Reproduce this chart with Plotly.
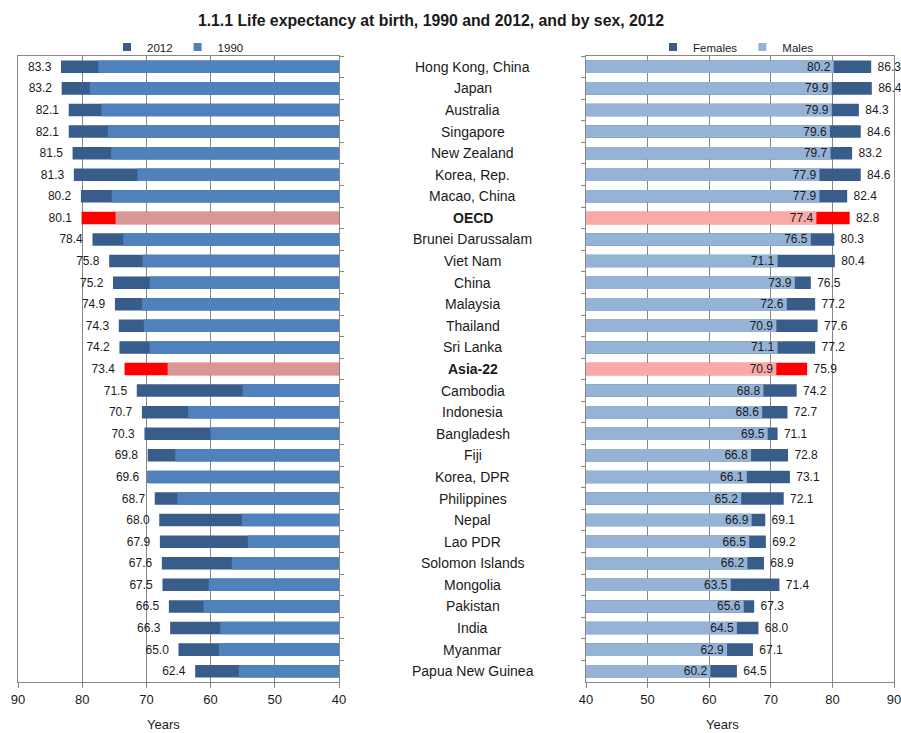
import plotly.graph_objects as go

# Economies, top to bottom
countries = [
    "Hong Kong, China", "Japan", "Australia", "Singapore", "New Zealand",
    "Korea, Rep.", "Macao, China", "OECD", "Brunei Darussalam", "Viet Nam",
    "China", "Malaysia", "Thailand", "Sri Lanka", "Asia-22", "Cambodia",
    "Indonesia", "Bangladesh", "Fiji", "Korea, DPR", "Philippines", "Nepal",
    "Lao PDR", "Solomon Islands", "Mongolia", "Pakistan", "India", "Myanmar",
    "Papua New Guinea",
]

# Life expectancy at birth, total (years)
le_2012 = [83.3, 83.2, 82.1, 82.1, 81.5, 81.3, 80.2, 80.1, 78.4, 75.8,
           75.2, 74.9, 74.3, 74.2, 73.4, 71.5, 70.7, 70.3, 69.8, 69.6,
           68.7, 68.0, 67.9, 67.6, 67.5, 66.5, 66.3, 65.0, 62.4]
le_1990 = [77.5, 78.8, 77.0, 76.0, 75.5, 71.4, 75.4, 74.8, 73.6, 70.6,
           69.5, 70.7, 70.4, 69.5, 66.7, 55.0, 63.5, 60.0, 65.5, 69.9,
           65.2, 55.1, 54.2, 56.7, 60.3, 61.1, 58.5, 58.7, 55.6]

# Life expectancy at birth by sex, 2012 (years)
females = [86.3, 86.4, 84.3, 84.6, 83.2, 84.6, 82.4, 82.8, 80.3, 80.4,
           76.5, 77.2, 77.6, 77.2, 75.9, 74.2, 72.7, 71.1, 72.8, 73.1,
           72.1, 69.1, 69.2, 68.9, 71.4, 67.3, 68.0, 67.1, 64.5]
males = [80.2, 79.9, 79.9, 79.6, 79.7, 77.9, 77.9, 77.4, 76.5, 71.1,
         73.9, 72.6, 70.9, 71.1, 70.9, 68.8, 68.6, 69.5, 66.8, 66.1,
         65.2, 66.9, 66.5, 66.2, 63.5, 65.6, 64.5, 62.9, 60.2]

aggregates = ["OECD", "Asia-22"]
AXIS_MIN = 40

FONT = "Liberation Sans, Arial, sans-serif"
GRID = "#878787"
C_2012, C_1990 = "#385D8A", "#4F81BD"
C_FEM, C_MALE = "#385D8A", "#95B3D7"
HL_DARK, HL_LIGHT_L, HL_LIGHT_R = "#FF0000", "#D99694", "#FAA9A9"


def colours(base, highlight):
    return [highlight if c in aggregates else base for c in countries]


NB = "\u00a0"
fig = go.Figure()

# Left panel: 2012 behind, 1990 in front, reversed axis
fig.add_trace(go.Bar(
    y=countries, x=[v - AXIS_MIN for v in le_2012], base=AXIS_MIN,
    orientation="h", marker=dict(color=colours(C_2012, HL_DARK), line_width=0),
    text=[f"{v:.1f}{NB}{NB}" for v in le_2012], textposition="outside",
    textfont=dict(size=12, color="#1a1a1a", family=FONT),
    constraintext="none", cliponaxis=False, showlegend=False,
    xaxis="x", yaxis="y", name="2012",
))
fig.add_trace(go.Bar(
    y=countries, x=[v - AXIS_MIN for v in le_1990], base=AXIS_MIN,
    orientation="h", marker=dict(color=colours(C_1990, HL_LIGHT_L), line_width=0),
    showlegend=False, xaxis="x", yaxis="y", name="1990",
))

# Right panel: females behind, males in front
fig.add_trace(go.Bar(
    y=countries, x=[v - AXIS_MIN for v in females], base=AXIS_MIN,
    orientation="h", marker=dict(color=colours(C_FEM, HL_DARK), line_width=0),
    text=[f"{NB}{v:.1f}" for v in females], textposition="outside",
    textfont=dict(size=12, color="#1a1a1a", family=FONT),
    constraintext="none", cliponaxis=False, showlegend=False,
    xaxis="x2", yaxis="y2", name="Females",
))
fig.add_trace(go.Bar(
    y=countries, x=[v - AXIS_MIN for v in males], base=AXIS_MIN,
    orientation="h", marker=dict(color=colours(C_MALE, HL_LIGHT_R), line_width=0),
    text=[f"{v:.1f}" for v in males], textposition="inside",
    insidetextanchor="end",
    insidetextfont=dict(size=12, color="#1a1a1a", family=FONT),
    constraintext="none", showlegend=False,
    xaxis="x2", yaxis="y2", name="Males",
))

# Legend entries with small square keys
for name, col, leg in [("2012", C_2012, "legend"), ("1990", C_1990, "legend"),
                       ("Females", C_FEM, "legend2"), ("Males", C_MALE, "legend2")]:
    fig.add_trace(go.Scatter(
        x=[None], y=[None], mode="markers", name=name, legend=leg,
        marker=dict(symbol="square", size=8, color=col),
        xaxis="x" if leg == "legend" else "x2",
        yaxis="y" if leg == "legend" else "y2",
    ))

W, H = 901, 733
TOP, BOTTOM = 56, 682
plot_h = BOTTOM - TOP

axis_common = dict(
    showgrid=True, gridcolor=GRID, gridwidth=1,
    showline=True, linecolor=GRID, linewidth=1, mirror=True,
    ticks="outside", ticklen=5, tickcolor=GRID, dtick=10,
    tickfont=dict(size=13, color="#1a1a1a", family=FONT),
    zeroline=False, fixedrange=True, automargin=False,
    ticklabeloverflow="allow",
)
yaxis_common = dict(
    type="category", categoryorder="array", categoryarray=countries,
    autorange="reversed", showticklabels=False, showgrid=False,
    showline=True, linecolor=GRID, linewidth=1, mirror=True,
    ticks="outside", ticklen=4, tickcolor=GRID, tickson="boundaries",
    fixedrange=True, automargin=False,
)

annotations = []
for c in countries:
    label = f"<b>{c}</b>" if c in aggregates else c
    annotations.append(dict(
        text=label, x=473 / W, xref="paper", y=c, yref="y2",
        xanchor="center", yanchor="middle", showarrow=False,
        font=dict(size=14, color="#1a1a1a", family=FONT),
    ))
for xpix in (163, 722):
    annotations.append(dict(
        text="Years", x=xpix / W, xref="paper", y=(BOTTOM - 724) / plot_h,
        yref="paper", xanchor="center", yanchor="middle", showarrow=False,
        font=dict(size=13, color="#1a1a1a", family=FONT),
    ))

legend_common = dict(
    orientation="h", yref="paper", y=1 + 9 / plot_h, yanchor="middle",
    xanchor="center", font=dict(size=11.5, color="#1a1a1a", family=FONT),
    bgcolor="rgba(0,0,0,0)", itemwidth=30, tracegroupgap=0,
)

fig.update_layout(
    width=W, height=H,
    margin=dict(l=0, r=0, t=TOP, b=H - BOTTOM, autoexpand=False),
    paper_bgcolor="white", plot_bgcolor="white",
    barmode="overlay", bargap=0.42,
    font=dict(family=FONT, color="#1a1a1a"),
    title=dict(
        text="<b>1.1.1 Life expectancy at birth, 1990 and 2012, and by sex, 2012</b>",
        x=431 / W, xanchor="center", y=1 - 20 / H, yanchor="middle",
        yref="container", font=dict(size=15.8, color="#1a1a1a", family=FONT),
    ),
    xaxis=dict(domain=[18 / W, 339 / W], range=[90, 40], anchor="y", **axis_common),
    yaxis=dict(domain=[0, 1], anchor="x", side="right", **yaxis_common),
    xaxis2=dict(domain=[586 / W, 894 / W], range=[40, 90], anchor="y2", **axis_common),
    yaxis2=dict(domain=[0, 1], anchor="x2", side="left", **yaxis_common),
    legend=dict(x=178 / W, **legend_common),
    legend2=dict(x=736 / W, **legend_common),
    annotations=annotations,
)

fig.write_html("out.html")
